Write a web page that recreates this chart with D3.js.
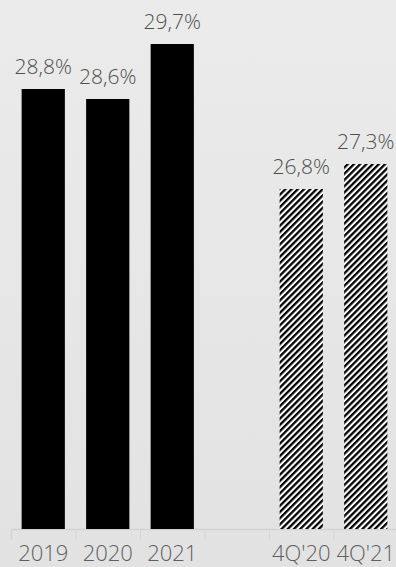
<!DOCTYPE html>
<html><head><meta charset="utf-8">
<script src="https://cdn.jsdelivr.net/npm/d3@7"></script>
<style>html,body{margin:0;padding:0;background:#e5e5e5;}svg{display:block;}</style>
</head><body>
<script>
const categories = ["2019", "2020", "2021", "", "4Q'20", "4Q'21"];
const values = [28.8, 28.6, 29.7, null, 26.8, 27.3];
const labels = ["28,8%", "28,6%", "29,7%", "", "26,8%", "27,3%"];
const hatched = [false, false, false, false, true, true];

const W = 396, H = 567;
const svg = d3.select("body").append("svg").attr("width", W).attr("height", H);
const defs = svg.append("defs");
const grad = defs.append("linearGradient").attr("id", "bg").attr("x1", 0).attr("y1", 0).attr("x2", 0).attr("y2", 1);
grad.append("stop").attr("offset", "0%").attr("stop-color", "#ebebeb");
grad.append("stop").attr("offset", "100%").attr("stop-color", "#e2e2e2");
svg.append("rect").attr("width", W).attr("height", H).attr("fill", "url(#bg)");

const pat = defs.append("pattern").attr("id", "hatch").attr("patternUnits", "userSpaceOnUse")
  .attr("width", 4.4).attr("height", 4.4).attr("patternTransform", "rotate(45)");
pat.append("rect").attr("width", 4.4).attr("height", 4.4).attr("fill", "#ffffff");
pat.append("rect").attr("width", 2.3).attr("height", 4.4).attr("fill", "#000000");

const x = d3.scaleBand().domain(d3.range(categories.length)).range([11, 398]).paddingInner(0.33).paddingOuter(0.165);
const y = d3.scaleLinear().domain([20, 30]).range([529, 29]);

// axis
const xAxis = d3.axisBottom(d3.scaleLinear().domain([0, categories.length]).range([11, 398]))
  .tickValues(d3.range(categories.length + 1)).tickSize(11).tickFormat("");
const ax = svg.append("g").attr("transform", "translate(0,529)").call(xAxis);
ax.select(".domain").attr("stroke", "#d2d2d2").attr("stroke-width", 1.5);
ax.selectAll(".tick line").attr("stroke", "#d6d6d6");

const idx = d3.range(categories.length).filter(i => values[i] != null);
svg.selectAll("rect.bar").data(idx).join("rect").attr("class", "bar")
  .attr("x", i => x(i)).attr("width", x.bandwidth())
  .attr("y", i => y(values[i])).attr("height", i => y(20) - y(values[i]))
  .attr("fill", i => hatched[i] ? "url(#hatch)" : "#000");

svg.selectAll("text.val").data(idx).join("text").attr("class", "val")
  .attr("x", i => x(i) + x.bandwidth() / 2).attr("y", i => y(values[i]) - 15)
  .attr("text-anchor", "middle").attr("font-family", "'Open Sans', sans-serif")
  .attr("font-weight", 300).attr("font-size", 21).attr("fill", "#4f4f4f")
  .text(i => labels[i]);

svg.selectAll("text.cat").data(d3.range(categories.length)).join("text").attr("class", "cat")
  .attr("x", i => x(i) + x.bandwidth() / 2).attr("y", 561)
  .attr("text-anchor", "middle").attr("font-family", "'Open Sans', sans-serif")
  .attr("font-weight", 300).attr("font-size", 22).attr("fill", "#5f5f5f")
  .text(i => categories[i]);
</script>
</body></html>
